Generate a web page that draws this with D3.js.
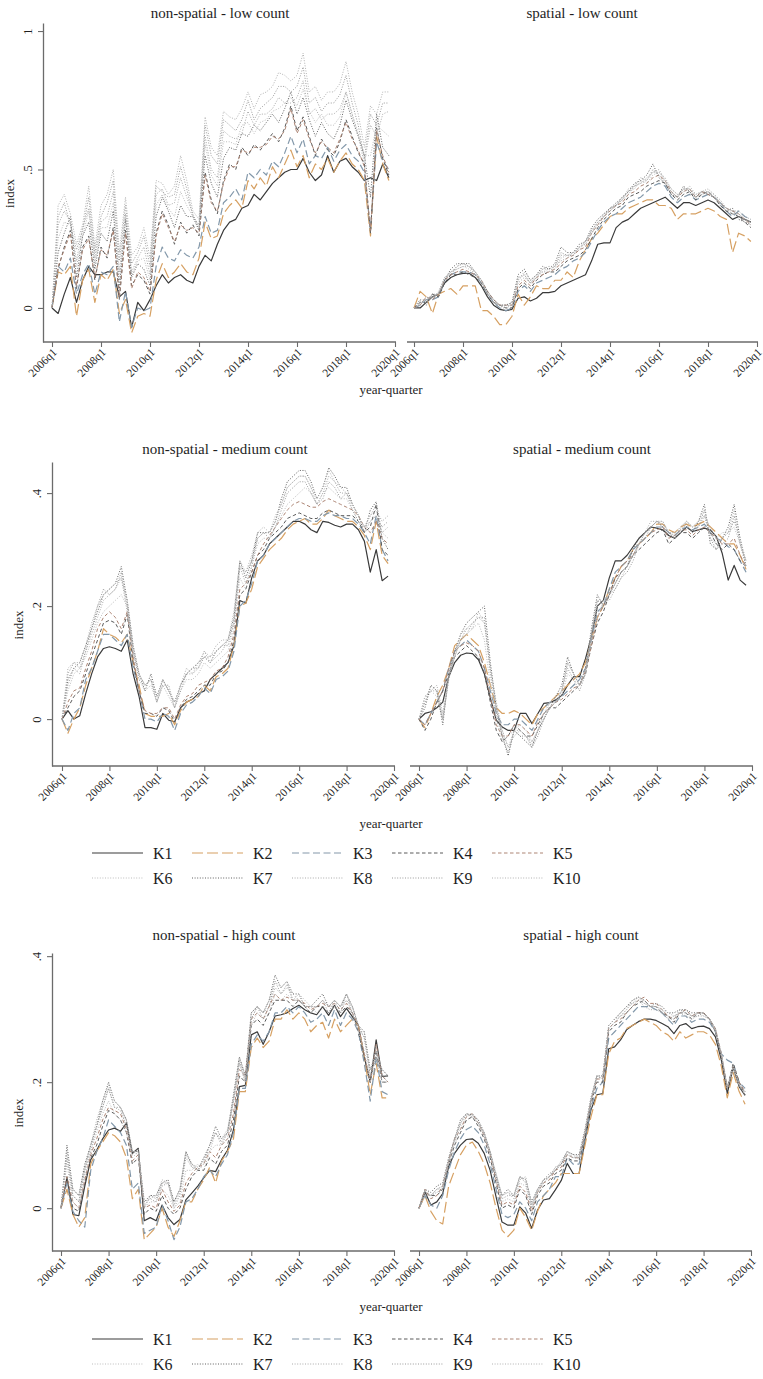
<!DOCTYPE html>
<html>
<head>
<meta charset="utf-8">
<script src="https://cdn.jsdelivr.net/npm/d3@7"></script>
<style>
  body { margin: 0; background: #fff; }
  svg text { font-family: "Liberation Serif", "DejaVu Serif", serif; fill: #1e1e1e; }
</style>
</head>
<body>
<div id="chart"></div>
<script>
// series names and x tick labels
const seriesNames = ["K1", "K2", "K3", "K4", "K5", "K6", "K7", "K8", "K9", "K10"];
const tickLabels = ["2006q1", "2008q1", "2010q1", "2012q1", "2014q1", "2016q1", "2018q1", "2020q1"];
// quarters 2006q1 .. 2019q4 (56 points, one value per quarter in every series)
const quarters = [];
for (let y = 2006; y <= 2019; y++) for (let q = 1; q <= 4; q++) quarters.push(y + "q" + q);

// ---- non-spatial - low count ----
const nsLow = [
  [0,-0.02,0.05,0.11,0.02,0.10,0.15,0.12, 0.12,0.13,0.13,0.04,0.06,-0.07,0.02,-0.01, 0.03,0.08,0.12,0.09,0.11,0.12,0.10,0.09, 0.15,0.19,0.17,0.23,0.28,0.31,0.32,0.36, 0.37,0.41,0.39,0.42,0.45,0.47,0.49,0.50, 0.50,0.54,0.49,0.46,0.48,0.55,0.49,0.53, 0.54,0.51,0.49,0.46,0.47,0.46,0.52,0.47],
  [0,0.13,0.12,0.15,-0.03,0.10,0.14,0.02, 0.12,0.10,0.14,-0.02,0.03,-0.09,-0.03,-0.02, -0.03,0.10,0.16,0.11,0.13,0.16,0.13,0.12, 0.18,0.31,0.25,0.26,0.34,0.37,0.39,0.36, 0.46,0.43,0.47,0.44,0.51,0.47,0.52,0.57, 0.51,0.55,0.47,0.52,0.50,0.54,0.49,0.53, 0.56,0.52,0.50,0.46,0.26,0.62,0.52,0.46],
  [0,0.15,0.13,0.18,0.05,0.12,0.16,0.05, 0.13,0.12,0.15,-0.05,0.06,-0.07,0.00,-0.01, 0.00,0.15,0.22,0.18,0.17,0.21,0.19,0.18, 0.22,0.33,0.27,0.28,0.38,0.40,0.43,0.39, 0.49,0.47,0.50,0.48,0.53,0.51,0.56,0.62, 0.56,0.61,0.52,0.55,0.54,0.58,0.53,0.57, 0.59,0.55,0.53,0.49,0.28,0.60,0.53,0.50],
  [0,0.14,0.22,0.28,0.07,0.22,0.26,0.10, 0.22,0.18,0.29,0.03,0.28,0.08,0.12,0.10, 0.05,0.27,0.35,0.30,0.23,0.31,0.27,0.30, 0.26,0.49,0.39,0.34,0.46,0.52,0.50,0.58, 0.55,0.59,0.57,0.60,0.63,0.60,0.65,0.73, 0.64,0.69,0.62,0.55,0.61,0.57,0.55,0.60, 0.68,0.62,0.56,0.52,0.27,0.65,0.54,0.48],
  [0,0.15,0.21,0.27,0.08,0.21,0.25,0.11, 0.21,0.19,0.28,0.04,0.27,0.07,0.13,0.11, 0.06,0.26,0.34,0.29,0.24,0.30,0.28,0.29, 0.27,0.48,0.38,0.35,0.45,0.51,0.51,0.57, 0.56,0.58,0.58,0.59,0.62,0.61,0.64,0.72, 0.63,0.68,0.61,0.56,0.60,0.58,0.56,0.61, 0.67,0.61,0.57,0.51,0.28,0.64,0.55,0.49],
  [0,0.25,0.31,0.30,0.15,0.26,0.35,0.16, 0.29,0.29,0.38,0.10,0.33,0.12,0.17,0.18, 0.10,0.37,0.41,0.36,0.33,0.42,0.37,0.33, 0.28,0.59,0.48,0.44,0.60,0.60,0.59,0.66, 0.67,0.63,0.67,0.68,0.71,0.72,0.74,0.76, 0.73,0.79,0.71,0.67,0.70,0.66,0.66,0.69, 0.78,0.70,0.63,0.55,0.55,0.66,0.64,0.62],
  [0,0.20,0.27,0.33,0.11,0.26,0.31,0.14, 0.27,0.24,0.35,0.07,0.32,0.11,0.16,0.14, 0.08,0.33,0.40,0.35,0.29,0.37,0.33,0.33, 0.28,0.55,0.45,0.40,0.54,0.58,0.57,0.63, 0.62,0.66,0.64,0.67,0.70,0.67,0.72,0.78, 0.70,0.76,0.68,0.62,0.67,0.63,0.61,0.66, 0.75,0.68,0.62,0.55,0.40,0.70,0.58,0.55],
  [0,0.30,0.35,0.31,0.17,0.29,0.36,0.18, 0.31,0.33,0.42,0.13,0.34,0.13,0.18,0.22, 0.12,0.41,0.43,0.37,0.38,0.47,0.40,0.34, 0.29,0.62,0.50,0.47,0.64,0.62,0.61,0.63, 0.71,0.66,0.70,0.70,0.72,0.76,0.74,0.74, 0.76,0.82,0.70,0.72,0.68,0.70,0.70,0.72, 0.78,0.70,0.62,0.52,0.66,0.62,0.70,0.71],
  [0,0.33,0.38,0.30,0.21,0.28,0.40,0.20, 0.33,0.38,0.46,0.17,0.37,0.16,0.20,0.26, 0.15,0.44,0.42,0.40,0.41,0.51,0.43,0.33, 0.30,0.66,0.55,0.52,0.68,0.66,0.64,0.68, 0.75,0.68,0.72,0.74,0.76,0.80,0.80,0.78, 0.80,0.87,0.74,0.76,0.71,0.74,0.74,0.77, 0.84,0.74,0.66,0.54,0.70,0.66,0.74,0.74],
  [0,0.37,0.41,0.34,0.23,0.30,0.44,0.22, 0.37,0.41,0.50,0.20,0.40,0.19,0.22,0.29, 0.18,0.46,0.45,0.41,0.44,0.55,0.46,0.35, 0.32,0.69,0.58,0.55,0.71,0.69,0.68,0.72, 0.78,0.72,0.77,0.78,0.80,0.85,0.84,0.82, 0.84,0.92,0.78,0.80,0.75,0.78,0.78,0.81, 0.89,0.78,0.70,0.58,0.73,0.70,0.78,0.78]
];

// ---- spatial - low count ----
const spLow = [
  [0,0.00,0.02,0.04,0.05,0.09,0.11,0.12, 0.125,0.125,0.11,0.08,0.04,0.01,-0.005,-0.01, -0.005,0.035,0.04,0.025,0.035,0.055,0.055,0.06, 0.08,0.09,0.10,0.11,0.12,0.17,0.23,0.235, 0.235,0.29,0.31,0.32,0.34,0.36,0.37,0.38, 0.39,0.40,0.38,0.36,0.38,0.38,0.37,0.38, 0.39,0.38,0.36,0.34,0.32,0.33,0.32,0.31],
  [0,0.06,0.04,-0.02,0.05,0.06,0.07,0.05, 0.08,0.08,0.08,-0.01,-0.01,-0.03,-0.06,-0.06, -0.03,0.05,0.01,0.04,0.08,0.07,0.07,0.10, 0.10,0.13,0.11,0.17,0.21,0.25,0.27,0.30, 0.33,0.34,0.34,0.36,0.37,0.38,0.39,0.39, 0.37,0.37,0.36,0.32,0.34,0.34,0.34,0.35, 0.36,0.35,0.33,0.32,0.20,0.27,0.26,0.24],
  [0,0.01,0.03,0.03,0.04,0.10,0.12,0.13, 0.13,0.13,0.12,0.09,0.05,0.02,0.00,-0.01, 0.00,0.06,0.08,0.06,0.09,0.10,0.11,0.12, 0.14,0.15,0.17,0.18,0.20,0.24,0.28,0.31, 0.33,0.34,0.36,0.38,0.39,0.40,0.42,0.44, 0.45,0.44,0.40,0.38,0.40,0.41,0.39,0.40, 0.41,0.40,0.38,0.35,0.33,0.35,0.33,0.32],
  [0,0.02,0.02,0.05,0.04,0.09,0.12,0.12, 0.13,0.12,0.11,0.09,0.05,0.02,0.01,0.00, 0.00,0.07,0.09,0.07,0.10,0.12,0.13,0.13, 0.15,0.17,0.18,0.19,0.21,0.25,0.29,0.32, 0.34,0.36,0.37,0.40,0.41,0.42,0.44,0.45, 0.46,0.45,0.41,0.39,0.41,0.42,0.39,0.41, 0.42,0.40,0.37,0.35,0.34,0.33,0.31,0.29],
  [0,0.01,0.04,0.03,0.05,0.10,0.12,0.13, 0.14,0.13,0.12,0.10,0.06,0.03,0.01,0.01, 0.01,0.08,0.10,0.08,0.11,0.12,0.13,0.14, 0.16,0.18,0.19,0.21,0.22,0.27,0.30,0.33, 0.35,0.37,0.38,0.41,0.42,0.44,0.45,0.47, 0.48,0.46,0.42,0.40,0.42,0.43,0.40,0.42, 0.41,0.40,0.38,0.36,0.35,0.34,0.32,0.30],
  [0,0.02,0.03,0.04,0.05,0.10,0.13,0.14, 0.15,0.14,0.12,0.09,0.05,0.02,0.01,0.01, 0.02,0.10,0.12,0.09,0.11,0.13,0.14,0.14, 0.18,0.19,0.19,0.22,0.23,0.27,0.31,0.33, 0.36,0.37,0.39,0.42,0.43,0.46,0.45,0.48, 0.49,0.46,0.42,0.40,0.43,0.42,0.40,0.41, 0.42,0.41,0.38,0.35,0.34,0.34,0.32,0.31],
  [0,0.03,0.01,0.05,0.04,0.10,0.14,0.16, 0.16,0.16,0.13,0.10,0.06,0.03,0.01,0.01, 0.02,0.12,0.14,0.10,0.12,0.15,0.14,0.16, 0.22,0.20,0.20,0.23,0.24,0.29,0.32,0.34, 0.36,0.37,0.40,0.42,0.45,0.46,0.48,0.52, 0.47,0.45,0.41,0.40,0.44,0.42,0.40,0.42, 0.41,0.40,0.37,0.35,0.36,0.32,0.31,0.30],
  [0,0.01,0.04,0.03,0.06,0.11,0.13,0.14, 0.15,0.15,0.13,0.10,0.06,0.02,0.00,0.00, 0.01,0.09,0.11,0.09,0.12,0.13,0.13,0.15, 0.17,0.18,0.20,0.21,0.24,0.27,0.30,0.34, 0.35,0.38,0.39,0.43,0.44,0.45,0.47,0.49, 0.50,0.46,0.43,0.41,0.42,0.44,0.41,0.42, 0.43,0.41,0.39,0.36,0.35,0.35,0.33,0.32],
  [0,0.02,0.02,0.04,0.05,0.11,0.12,0.15, 0.16,0.15,0.12,0.09,0.05,0.02,0.01,0.00, 0.02,0.11,0.12,0.09,0.11,0.14,0.15,0.15, 0.20,0.19,0.19,0.22,0.24,0.28,0.31,0.33, 0.36,0.38,0.40,0.42,0.44,0.47,0.46,0.50, 0.48,0.45,0.42,0.40,0.43,0.43,0.40,0.41, 0.42,0.40,0.38,0.36,0.35,0.33,0.32,0.31],
  [0,0.03,0.03,0.05,0.05,0.10,0.13,0.15, 0.16,0.15,0.13,0.10,0.05,0.03,0.01,0.01, 0.01,0.10,0.13,0.10,0.12,0.14,0.14,0.15, 0.19,0.19,0.20,0.22,0.23,0.28,0.31,0.33, 0.35,0.37,0.39,0.41,0.44,0.45,0.46,0.49, 0.49,0.47,0.43,0.41,0.43,0.43,0.41,0.42, 0.42,0.40,0.38,0.36,0.34,0.34,0.32,0.30]
];

// ---- non-spatial - medium count ----
const nsMed = [
  [0,0.015,0.0,0.006,0.045,0.08,0.11,0.125, 0.128,0.125,0.12,0.14,0.08,0.04,-0.015,-0.015, -0.018,0.01,-0.002,-0.005,0.02,0.03,0.035,0.045, 0.05,0.07,0.08,0.09,0.10,0.13,0.21,0.205, 0.25,0.28,0.29,0.31,0.32,0.33,0.34,0.35, 0.35,0.345,0.335,0.33,0.35,0.348,0.343,0.34, 0.345,0.345,0.335,0.315,0.26,0.30,0.245,0.253],
  [0,-0.025,0.0,0.02,0.06,0.09,0.12,0.16, 0.15,0.145,0.135,0.15,0.10,0.06,0.01,0.005, 0.005,0.005,0.01,-0.01,0.015,0.03,0.035,0.04, 0.06,0.05,0.075,0.08,0.09,0.13,0.20,0.205, 0.23,0.27,0.285,0.30,0.31,0.32,0.335,0.345, 0.35,0.355,0.345,0.345,0.355,0.37,0.36,0.355, 0.35,0.35,0.34,0.325,0.30,0.35,0.29,0.275],
  [0,-0.02,0.01,0.02,0.07,0.09,0.12,0.15, 0.15,0.14,0.13,0.15,0.09,0.05,0.00,0.00, -0.005,0.01,0.005,-0.02,0.01,0.025,0.03,0.04, 0.055,0.045,0.07,0.075,0.085,0.12,0.20,0.21, 0.24,0.28,0.29,0.31,0.32,0.33,0.34,0.35, 0.355,0.355,0.35,0.35,0.36,0.365,0.36,0.36, 0.355,0.355,0.345,0.33,0.31,0.36,0.30,0.28],
  [0,0.02,0.04,0.05,0.08,0.11,0.14,0.17, 0.175,0.17,0.15,0.185,0.10,0.05,0.01,0.01, 0.005,0.02,0.015,-0.005,0.02,0.035,0.04,0.05, 0.06,0.06,0.08,0.085,0.10,0.14,0.22,0.23, 0.26,0.29,0.30,0.32,0.33,0.34,0.355,0.36, 0.365,0.36,0.355,0.355,0.365,0.37,0.365,0.36, 0.36,0.36,0.35,0.33,0.34,0.38,0.30,0.29],
  [0,0.03,0.05,0.055,0.09,0.12,0.16,0.18, 0.19,0.18,0.16,0.19,0.11,0.05,0.015,0.01, 0.01,0.02,0.02,0.0,0.025,0.04,0.045,0.06, 0.065,0.07,0.085,0.09,0.11,0.15,0.23,0.24, 0.26,0.29,0.31,0.325,0.34,0.355,0.37,0.38, 0.385,0.38,0.375,0.375,0.385,0.39,0.385,0.38, 0.375,0.37,0.36,0.34,0.33,0.35,0.32,0.31],
  [0,0.05,0.08,0.09,0.11,0.14,0.17,0.19, 0.20,0.21,0.22,0.20,0.12,0.07,0.05,0.06, 0.03,0.06,0.04,0.02,0.05,0.07,0.07,0.08, 0.10,0.09,0.10,0.11,0.12,0.16,0.25,0.23, 0.27,0.31,0.32,0.32,0.34,0.36,0.38,0.39, 0.40,0.41,0.40,0.38,0.40,0.41,0.40,0.39, 0.39,0.37,0.35,0.34,0.35,0.36,0.33,0.32],
  [0,0.07,0.09,0.10,0.13,0.16,0.19,0.22, 0.23,0.24,0.27,0.21,0.13,0.08,0.05,0.08, 0.04,0.07,0.05,0.03,0.06,0.08,0.09,0.10, 0.11,0.10,0.12,0.13,0.14,0.18,0.28,0.25, 0.28,0.33,0.33,0.33,0.35,0.39,0.42,0.43, 0.44,0.44,0.42,0.39,0.41,0.445,0.43,0.41, 0.41,0.38,0.36,0.33,0.37,0.385,0.32,0.30],
  [0,0.06,0.09,0.08,0.12,0.15,0.18,0.21, 0.22,0.23,0.25,0.19,0.12,0.07,0.06,0.07, 0.03,0.07,0.05,0.02,0.06,0.08,0.08,0.09, 0.12,0.10,0.11,0.12,0.14,0.17,0.27,0.24, 0.27,0.32,0.33,0.33,0.35,0.38,0.41,0.42, 0.43,0.43,0.41,0.38,0.40,0.43,0.42,0.40, 0.40,0.38,0.36,0.34,0.36,0.37,0.35,0.36],
  [0,0.08,0.10,0.09,0.12,0.16,0.20,0.23, 0.22,0.23,0.26,0.20,0.12,0.08,0.06,0.07, 0.03,0.06,0.06,0.02,0.05,0.08,0.09,0.09, 0.11,0.11,0.12,0.13,0.13,0.17,0.27,0.26, 0.28,0.32,0.33,0.32,0.34,0.37,0.40,0.41, 0.42,0.42,0.40,0.38,0.39,0.42,0.41,0.39, 0.40,0.37,0.35,0.33,0.35,0.36,0.34,0.35],
  [0,0.09,0.10,0.10,0.13,0.17,0.20,0.22, 0.23,0.24,0.25,0.21,0.13,0.08,0.06,0.07, 0.04,0.07,0.05,0.03,0.06,0.09,0.08,0.10, 0.12,0.11,0.13,0.14,0.14,0.19,0.28,0.26, 0.29,0.33,0.34,0.33,0.36,0.38,0.41,0.42, 0.43,0.43,0.41,0.39,0.41,0.44,0.42,0.41, 0.40,0.38,0.36,0.34,0.36,0.38,0.33,0.34]
];

// ---- spatial - medium count ----
const spMed = [
  [0,0.01,0.013,0.02,0.03,0.075,0.10,0.113, 0.117,0.116,0.105,0.08,0.037,-0.002,-0.014,-0.02, -0.02,0.01,0.01,-0.008,0.01,0.028,0.029,0.034, 0.042,0.06,0.075,0.075,0.107,0.146,0.20,0.21, 0.25,0.28,0.28,0.29,0.305,0.32,0.33,0.34, 0.338,0.335,0.325,0.32,0.33,0.34,0.332,0.335, 0.338,0.335,0.323,0.293,0.246,0.272,0.246,0.237],
  [0,-0.015,0.01,0.04,0.06,0.09,0.13,0.14, 0.15,0.14,0.13,0.10,0.06,0.02,0.01,0.01, 0.015,0.01,0.0,-0.01,0.01,0.02,0.03,0.04, 0.05,0.06,0.07,0.08,0.10,0.14,0.18,0.20, 0.23,0.25,0.27,0.28,0.30,0.31,0.32,0.33, 0.345,0.345,0.335,0.33,0.34,0.345,0.34,0.345, 0.35,0.34,0.33,0.32,0.31,0.31,0.29,0.265],
  [0,-0.01,0.01,0.03,0.05,0.09,0.12,0.13, 0.14,0.13,0.12,0.09,0.05,0.01,-0.01,-0.01, 0.0,0.0,-0.01,-0.02,0.0,0.02,0.03,0.03, 0.04,0.05,0.06,0.07,0.09,0.14,0.19,0.20, 0.23,0.26,0.27,0.28,0.30,0.31,0.32,0.33, 0.34,0.34,0.33,0.325,0.335,0.34,0.335,0.34, 0.345,0.33,0.32,0.315,0.305,0.30,0.28,0.26],
  [0,-0.02,0.0,0.03,0.05,0.08,0.11,0.12, 0.13,0.12,0.11,0.08,0.03,-0.02,-0.04,-0.03, -0.01,-0.02,-0.03,-0.03,-0.01,0.01,0.02,0.02, 0.03,0.04,0.05,0.06,0.08,0.13,0.17,0.19, 0.22,0.25,0.26,0.27,0.29,0.30,0.31,0.32, 0.33,0.335,0.31,0.32,0.33,0.33,0.32,0.33, 0.34,0.33,0.31,0.30,0.31,0.30,0.28,0.27],
  [0,-0.01,0.01,0.03,0.05,0.09,0.12,0.13, 0.135,0.13,0.12,0.09,0.04,-0.01,-0.03,-0.03, -0.01,-0.01,-0.02,-0.03,-0.005,0.01,0.02,0.03, 0.035,0.045,0.055,0.06,0.085,0.13,0.18,0.20, 0.22,0.25,0.27,0.28,0.29,0.31,0.32,0.33, 0.335,0.34,0.32,0.325,0.335,0.335,0.325,0.335, 0.34,0.33,0.32,0.31,0.31,0.32,0.29,0.27],
  [0,0.03,0.05,0.04,0.0,0.07,0.11,0.14, 0.15,0.16,0.17,0.14,0.06,0.0,-0.04,-0.03, -0.02,-0.01,-0.02,-0.04,-0.02,0.01,0.03,0.03, 0.04,0.08,0.07,0.06,0.08,0.14,0.18,0.21, 0.22,0.24,0.26,0.27,0.29,0.31,0.33,0.34, 0.35,0.35,0.33,0.33,0.34,0.35,0.34,0.35, 0.36,0.34,0.32,0.33,0.33,0.34,0.31,0.28],
  [0,0.02,0.06,0.05,-0.01,0.08,0.12,0.15, 0.17,0.18,0.19,0.20,0.10,0.02,-0.03,-0.065, -0.02,-0.03,-0.04,-0.05,-0.02,0.0,0.02,0.04, 0.06,0.11,0.08,0.06,0.09,0.16,0.22,0.20, 0.22,0.24,0.26,0.27,0.30,0.32,0.33,0.34, 0.35,0.34,0.33,0.32,0.33,0.34,0.33,0.35, 0.38,0.31,0.30,0.32,0.34,0.38,0.32,0.27],
  [0,0.04,0.05,0.06,0.01,0.08,0.11,0.14, 0.15,0.17,0.18,0.17,0.09,0.03,-0.02,-0.05, -0.03,-0.02,-0.03,-0.045,-0.02,0.01,0.02,0.03, 0.05,0.10,0.08,0.06,0.08,0.15,0.20,0.21, 0.21,0.23,0.25,0.27,0.29,0.31,0.33,0.35, 0.35,0.34,0.33,0.32,0.34,0.35,0.34,0.35, 0.37,0.32,0.31,0.32,0.33,0.35,0.32,0.28],
  [0,0.03,0.06,0.05,0.0,0.07,0.12,0.14, 0.16,0.17,0.18,0.18,0.08,0.01,-0.03,-0.06, -0.02,-0.03,-0.03,-0.05,-0.03,0.0,0.02,0.03, 0.05,0.09,0.07,0.05,0.08,0.15,0.21,0.20, 0.22,0.23,0.25,0.26,0.28,0.31,0.32,0.34, 0.35,0.345,0.33,0.325,0.335,0.345,0.33,0.34, 0.36,0.32,0.30,0.31,0.32,0.36,0.31,0.27],
  [0,0.04,0.05,0.05,0.0,0.08,0.11,0.15, 0.16,0.16,0.19,0.17,0.09,0.02,-0.02,-0.05, -0.02,-0.02,-0.03,-0.04,-0.02,0.0,0.03,0.04, 0.05,0.10,0.08,0.06,0.09,0.15,0.21,0.21, 0.22,0.24,0.26,0.27,0.29,0.31,0.33,0.34, 0.35,0.35,0.33,0.33,0.33,0.35,0.34,0.34, 0.37,0.33,0.31,0.32,0.33,0.37,0.31,0.28]
];

// ---- non-spatial - high count ----
const nsHigh = [
  [0,0.048,-0.01,-0.012,0.035,0.077,0.092,0.11, 0.124,0.127,0.122,0.135,0.087,0.095,-0.02,-0.015, -0.02,0.005,-0.015,-0.026,-0.018,0.013,0.024,0.035, 0.048,0.06,0.058,0.077,0.092,0.124,0.193,0.195, 0.275,0.28,0.26,0.28,0.305,0.307,0.31,0.317, 0.322,0.315,0.31,0.307,0.32,0.306,0.322,0.304, 0.317,0.304,0.29,0.24,0.20,0.267,0.209,0.21],
  [0,0.03,-0.01,-0.03,-0.015,0.07,0.09,0.105, 0.12,0.115,0.105,0.08,0.015,0.03,-0.05,-0.04, -0.03,0.0,-0.03,-0.045,-0.02,0.01,0.01,0.03, 0.045,0.065,0.04,0.075,0.09,0.11,0.185,0.185, 0.255,0.27,0.255,0.265,0.30,0.30,0.315,0.30, 0.31,0.30,0.28,0.29,0.295,0.27,0.30,0.28, 0.29,0.30,0.29,0.24,0.18,0.23,0.175,0.175],
  [0,0.04,-0.005,-0.02,-0.03,0.06,0.09,0.11, 0.14,0.13,0.12,0.10,0.03,0.04,-0.04,-0.035, -0.03,0.005,-0.02,-0.05,-0.03,0.01,0.015,0.03, 0.05,0.06,0.05,0.07,0.085,0.12,0.19,0.19, 0.26,0.275,0.265,0.28,0.31,0.31,0.32,0.31, 0.32,0.31,0.295,0.30,0.31,0.29,0.315,0.29, 0.31,0.30,0.28,0.23,0.17,0.24,0.185,0.18],
  [0,0.05,0.0,-0.005,0.04,0.08,0.10,0.13, 0.155,0.15,0.14,0.12,0.07,0.08,-0.01,0.0, -0.005,0.02,0.0,-0.01,0.0,0.03,0.05,0.06, 0.06,0.08,0.07,0.09,0.10,0.14,0.21,0.20, 0.29,0.30,0.29,0.31,0.33,0.33,0.33,0.32, 0.33,0.32,0.31,0.32,0.32,0.31,0.32,0.31, 0.32,0.31,0.28,0.24,0.20,0.25,0.20,0.20],
  [0,0.05,0.01,0.0,0.045,0.085,0.11,0.14, 0.16,0.155,0.15,0.125,0.075,0.085,0.0,0.005, 0.0,0.03,0.01,-0.005,0.005,0.04,0.055,0.065, 0.07,0.09,0.08,0.10,0.11,0.15,0.22,0.21, 0.30,0.31,0.30,0.32,0.34,0.33,0.335,0.33, 0.33,0.325,0.315,0.32,0.325,0.32,0.325,0.315, 0.325,0.31,0.29,0.245,0.20,0.26,0.21,0.20],
  [0,0.07,0.01,0.0,0.05,0.09,0.12,0.15, 0.17,0.15,0.14,0.12,0.08,0.09,0.0,0.01, 0.01,0.03,0.02,0.0,0.01,0.06,0.06,0.07, 0.06,0.09,0.10,0.10,0.11,0.17,0.23,0.20, 0.29,0.31,0.30,0.31,0.34,0.33,0.34,0.33, 0.33,0.32,0.32,0.31,0.32,0.31,0.32,0.31, 0.33,0.31,0.28,0.25,0.20,0.24,0.20,0.20],
  [0,0.10,0.03,0.02,0.07,0.10,0.13,0.17, 0.20,0.17,0.16,0.14,0.09,0.09,0.01,0.02, 0.02,0.04,0.045,0.01,0.03,0.09,0.07,0.06, 0.08,0.10,0.13,0.11,0.12,0.18,0.24,0.21, 0.31,0.32,0.31,0.33,0.37,0.35,0.36,0.34, 0.34,0.32,0.32,0.33,0.34,0.32,0.33,0.32, 0.34,0.32,0.29,0.28,0.22,0.24,0.22,0.21],
  [0,0.08,0.02,0.01,0.06,0.09,0.13,0.16, 0.19,0.16,0.155,0.13,0.09,0.09,0.01,0.015, 0.01,0.04,0.04,0.0,0.02,0.08,0.065,0.06, 0.07,0.10,0.12,0.10,0.12,0.17,0.23,0.20, 0.30,0.32,0.31,0.32,0.35,0.34,0.35,0.34, 0.33,0.32,0.32,0.32,0.33,0.32,0.32,0.32, 0.33,0.32,0.29,0.27,0.21,0.25,0.21,0.21],
  [0,0.09,0.02,0.01,0.06,0.10,0.13,0.16, 0.19,0.16,0.16,0.14,0.085,0.095,0.0,0.02, 0.015,0.035,0.04,0.005,0.025,0.085,0.07,0.065, 0.075,0.10,0.12,0.105,0.12,0.17,0.235,0.205, 0.30,0.32,0.30,0.32,0.36,0.34,0.355,0.33, 0.33,0.32,0.31,0.32,0.33,0.31,0.33,0.31, 0.34,0.31,0.28,0.28,0.21,0.24,0.21,0.20],
  [0,0.08,0.03,0.02,0.065,0.10,0.14,0.17, 0.195,0.17,0.16,0.13,0.09,0.085,0.005,0.015, 0.02,0.045,0.04,0.01,0.03,0.09,0.065,0.06, 0.08,0.09,0.12,0.11,0.125,0.175,0.24,0.21, 0.31,0.32,0.31,0.33,0.36,0.35,0.36,0.33, 0.34,0.33,0.32,0.32,0.33,0.32,0.33,0.32, 0.34,0.32,0.29,0.27,0.22,0.25,0.22,0.21]
];

// ---- spatial - high count ----
const spHigh = [
  [0,0.026,0.005,0.01,0.023,0.066,0.087,0.10, 0.109,0.11,0.103,0.087,0.06,0.018,-0.022,-0.027, -0.027,0.002,-0.008,-0.032,-0.003,0.013,0.015,0.029, 0.044,0.071,0.055,0.055,0.108,0.156,0.18,0.182, 0.253,0.256,0.267,0.283,0.29,0.296,0.30,0.30, 0.298,0.293,0.288,0.277,0.29,0.293,0.285,0.288, 0.289,0.285,0.272,0.235,0.182,0.224,0.193,0.179],
  [0,0.02,-0.005,-0.02,-0.025,0.035,0.06,0.085, 0.10,0.105,0.09,0.07,0.04,0.0,-0.035,-0.045, -0.035,0.0,-0.015,-0.035,-0.005,0.02,0.03,0.04, 0.055,0.055,0.055,0.055,0.10,0.145,0.18,0.18, 0.245,0.265,0.27,0.285,0.29,0.295,0.30,0.295, 0.29,0.28,0.275,0.265,0.28,0.27,0.275,0.28, 0.28,0.275,0.26,0.225,0.175,0.215,0.185,0.165],
  [0,0.02,0.005,0.0,0.02,0.06,0.09,0.11, 0.125,0.13,0.12,0.10,0.07,0.03,-0.01,-0.015, -0.01,0.01,0.0,-0.02,0.01,0.02,0.03,0.05, 0.05,0.08,0.07,0.07,0.11,0.16,0.19,0.20, 0.27,0.28,0.29,0.30,0.31,0.32,0.32,0.32, 0.315,0.31,0.30,0.29,0.305,0.305,0.295,0.30, 0.30,0.295,0.28,0.245,0.235,0.23,0.20,0.19],
  [0,0.025,0.02,0.02,0.03,0.07,0.10,0.12, 0.14,0.145,0.13,0.11,0.08,0.04,0.0,0.005, 0.0,0.03,0.02,-0.01,0.02,0.035,0.04,0.055, 0.06,0.08,0.075,0.075,0.115,0.165,0.20,0.20, 0.28,0.29,0.295,0.31,0.32,0.325,0.33,0.32, 0.32,0.31,0.305,0.295,0.31,0.31,0.30,0.31, 0.31,0.30,0.28,0.24,0.19,0.23,0.20,0.18],
  [0,0.03,0.015,0.02,0.035,0.075,0.11,0.125, 0.145,0.15,0.135,0.115,0.085,0.045,0.005,0.01, 0.005,0.035,0.025,-0.005,0.025,0.04,0.045,0.06, 0.065,0.085,0.08,0.08,0.12,0.17,0.205,0.205, 0.285,0.295,0.30,0.31,0.32,0.33,0.335,0.325, 0.325,0.315,0.305,0.30,0.31,0.315,0.305,0.31, 0.31,0.30,0.285,0.245,0.19,0.225,0.20,0.185],
  [0,0.025,0.02,0.03,0.03,0.07,0.10,0.13, 0.145,0.15,0.135,0.115,0.085,0.05,0.01,0.015, 0.01,0.04,0.035,0.0,0.025,0.04,0.05,0.06, 0.07,0.085,0.08,0.08,0.12,0.17,0.21,0.205, 0.285,0.295,0.305,0.315,0.325,0.335,0.325,0.32, 0.32,0.315,0.30,0.30,0.31,0.31,0.305,0.31, 0.305,0.30,0.285,0.245,0.195,0.225,0.195,0.18],
  [0,0.03,0.025,0.035,0.04,0.08,0.11,0.14, 0.15,0.148,0.14,0.12,0.09,0.05,0.02,0.03, 0.02,0.05,0.045,0.01,0.03,0.045,0.05,0.06, 0.07,0.09,0.085,0.085,0.125,0.175,0.21,0.21, 0.29,0.30,0.31,0.32,0.33,0.335,0.33,0.32, 0.325,0.32,0.31,0.31,0.315,0.315,0.31,0.31, 0.31,0.30,0.285,0.24,0.19,0.225,0.195,0.185],
  [0,0.02,0.02,0.03,0.035,0.075,0.105,0.135, 0.15,0.145,0.135,0.12,0.085,0.055,0.02,0.025, 0.015,0.045,0.05,0.005,0.03,0.04,0.05,0.065, 0.07,0.085,0.08,0.085,0.12,0.17,0.205,0.21, 0.285,0.295,0.305,0.31,0.32,0.33,0.32,0.315, 0.315,0.31,0.30,0.305,0.31,0.305,0.30,0.305, 0.305,0.30,0.28,0.245,0.19,0.225,0.195,0.18],
  [0,0.025,0.02,0.025,0.03,0.075,0.11,0.135, 0.148,0.15,0.14,0.115,0.09,0.05,0.015,0.02, 0.02,0.05,0.04,0.0,0.025,0.045,0.055,0.06, 0.075,0.09,0.08,0.08,0.12,0.17,0.21,0.205, 0.29,0.30,0.31,0.32,0.325,0.33,0.325,0.32, 0.32,0.31,0.305,0.30,0.315,0.31,0.305,0.305, 0.31,0.30,0.28,0.24,0.19,0.22,0.195,0.18],
  [0,0.03,0.02,0.03,0.035,0.08,0.11,0.14, 0.15,0.145,0.135,0.12,0.09,0.055,0.02,0.025, 0.02,0.05,0.045,0.005,0.03,0.045,0.05,0.065, 0.07,0.09,0.085,0.08,0.125,0.175,0.21,0.21, 0.29,0.30,0.305,0.315,0.33,0.335,0.33,0.32, 0.32,0.315,0.31,0.305,0.31,0.315,0.305,0.31, 0.31,0.30,0.285,0.245,0.19,0.225,0.195,0.185]
];

// line look for K1..K10
const lineStyles = [
  { color: "#3a3a3a", dash: null,      width: 1.2 },
  { color: "#d6a062", dash: "11,4",    width: 1.2 },
  { color: "#8398aa", dash: "7,3.5",   width: 1.2 },
  { color: "#5a5a5a", dash: "3.5,2.5", width: 1 },
  { color: "#ad8574", dash: "3.5,2.5", width: 1 },
  { color: "#bdbdbd", dash: "1,1.6",   width: 1 },
  { color: "#606060", dash: "1,1.6",   width: 1 },
  { color: "#aaaaaa", dash: "1,1.6",   width: 1 },
  { color: "#9a9a9a", dash: "1,1.6",   width: 1 },
  { color: "#b2b2b2", dash: "1,1.6",   width: 1 }
];

const panels = [
  { title: "non-spatial - low count", data: nsLow, left: 43, x0: 52, x1: 395, top: 23, bottom: 342, dom: [-0.123, 1.029], yTicks: [0, 0.5, 1], yAxis: true, tx: 220, ty: 18 },
  { title: "spatial - low count", data: spLow, left: 407, x0: 414, x1: 757, top: 23, bottom: 342, dom: [-0.123, 1.029], yTicks: [0, 0.5, 1], yAxis: false, tx: 582, ty: 18 },
  { title: "non-spatial - medium count", data: nsMed, left: 52, x0: 62, x1: 394, top: 462, bottom: 766, dom: [-0.083, 0.455], yTicks: [0, 0.2, 0.4], yAxis: true, tx: 225, ty: 454 },
  { title: "spatial - medium count", data: spMed, left: 410, x0: 419, x1: 752, top: 462, bottom: 766, dom: [-0.083, 0.455], yTicks: [0, 0.2, 0.4], yAxis: false, tx: 582, ty: 454 },
  { title: "non-spatial - high count", data: nsHigh, left: 52, x0: 61, x1: 394, top: 953, bottom: 1251, dom: [-0.068, 0.405], yTicks: [0, 0.2, 0.4], yAxis: true, tx: 224, ty: 940 },
  { title: "spatial - high count", data: spHigh, left: 410, x0: 419, x1: 751, top: 953, bottom: 1251, dom: [-0.068, 0.405], yTicks: [0, 0.2, 0.4], yAxis: false, tx: 581, ty: 940 }
];

const W = 763, H = 1379;
const axisColor = "#6b6b6b";
const svg = d3.select("#chart").append("svg")
  .attr("width", W).attr("height", H)
  .attr("viewBox", `0 0 ${W} ${H}`);

const fmtY = v => v === 0 ? "0" : String(v).replace(/^0/, "");

panels.forEach(p => {
  const x = d3.scaleLinear().domain([0, 56]).range([p.x0, p.x1]);
  const y = d3.scaleLinear().domain(p.dom).range([p.bottom, p.top]);
  const g = svg.append("g");

  // title
  g.append("text")
    .attr("x", p.tx).attr("y", p.ty)
    .attr("text-anchor", "middle")
    .style("font-size", "15px")
    .text(p.title);

  // lines
  const line = d3.line().x((d, i) => x(i)).y(d => y(d));
  p.data.forEach((vals, k) => {
    const s = lineStyles[k];
    g.append("path")
      .datum(vals)
      .attr("fill", "none")
      .attr("stroke", s.color)
      .attr("stroke-width", s.width)
      .attr("stroke-dasharray", s.dash)
      .attr("stroke-linejoin", "round")
      .attr("d", line);
  });

  // x axis
  const xAxis = d3.axisBottom(x)
    .tickValues(d3.range(0, 57, 8))
    .tickFormat(i => tickLabels[i / 8])
    .tickSize(5)
    .tickSizeOuter(0);
  const gx = g.append("g")
    .attr("transform", `translate(0,${p.bottom})`)
    .call(xAxis);
  gx.select(".domain").remove();
  gx.append("line")
    .attr("x1", p.left).attr("x2", p.x1 + 1)
    .attr("y1", 0).attr("y2", 0)
    .attr("stroke", axisColor).attr("stroke-width", 1.3);
  gx.selectAll(".tick line").attr("stroke", axisColor).attr("stroke-width", 1.1);
  gx.selectAll(".tick text")
    .attr("x", 0).attr("y", 0).attr("dy", 0)
    .attr("text-anchor", "end")
    .attr("transform", "translate(5,11) rotate(-45)")
    .style("font-size", "11.5px")
    .style("font-family", "'Liberation Serif', serif")
    .attr("fill", "#1e1e1e");

  // y axis
  if (p.yAxis) {
    const yAxis = d3.axisLeft(y)
      .tickValues(p.yTicks)
      .tickFormat(fmtY)
      .tickSize(5)
      .tickSizeOuter(0);
    const gy = g.append("g")
      .attr("transform", `translate(${p.left},0)`)
      .call(yAxis);
    gy.select(".domain").attr("stroke", axisColor).attr("stroke-width", 1.3);
    gy.selectAll(".tick line").attr("stroke", axisColor).attr("stroke-width", 1.1);
    gy.selectAll(".tick text")
      .attr("x", 0).attr("y", 0).attr("dy", 0)
      .attr("text-anchor", "middle")
      .attr("transform", "translate(-11,0) rotate(-90)")
      .style("font-size", "12.5px")
      .style("font-family", "'Liberation Serif', serif")
      .attr("fill", "#1e1e1e");

    g.append("text")
      .attr("text-anchor", "middle")
      .attr("transform", `translate(${p.left - 29},${(p.top + p.bottom) / 2 + 11}) rotate(-90)`)
      .style("font-size", "13px")
      .text("index");
  }
});

// shared x titles
[394, 828, 1311].forEach(yy => {
  svg.append("text")
    .attr("x", 391).attr("y", yy)
    .attr("text-anchor", "middle")
    .style("font-size", "13px")
    .text("year-quarter");
});

// legends below row 2 and row 3
function drawLegend(rowY) {
  const lg = svg.append("g");
  seriesNames.forEach((name, k) => {
    const col = k % 5, row = Math.floor(k / 5);
    const lx = 92 + col * 100, ly = rowY[row];
    const s = lineStyles[k];
    lg.append("line")
      .attr("x1", lx).attr("x2", lx + 51)
      .attr("y1", ly).attr("y2", ly)
      .attr("stroke", s.color)
      .attr("stroke-width", s.width)
      .attr("stroke-dasharray", s.dash);
    lg.append("text")
      .attr("x", lx + 61).attr("y", ly + 5.5)
      .style("font-size", "16px")
      .text(name);
  });
}
drawLegend([853, 878]);
drawLegend([1339, 1364]);
</script>
</body>
</html>
